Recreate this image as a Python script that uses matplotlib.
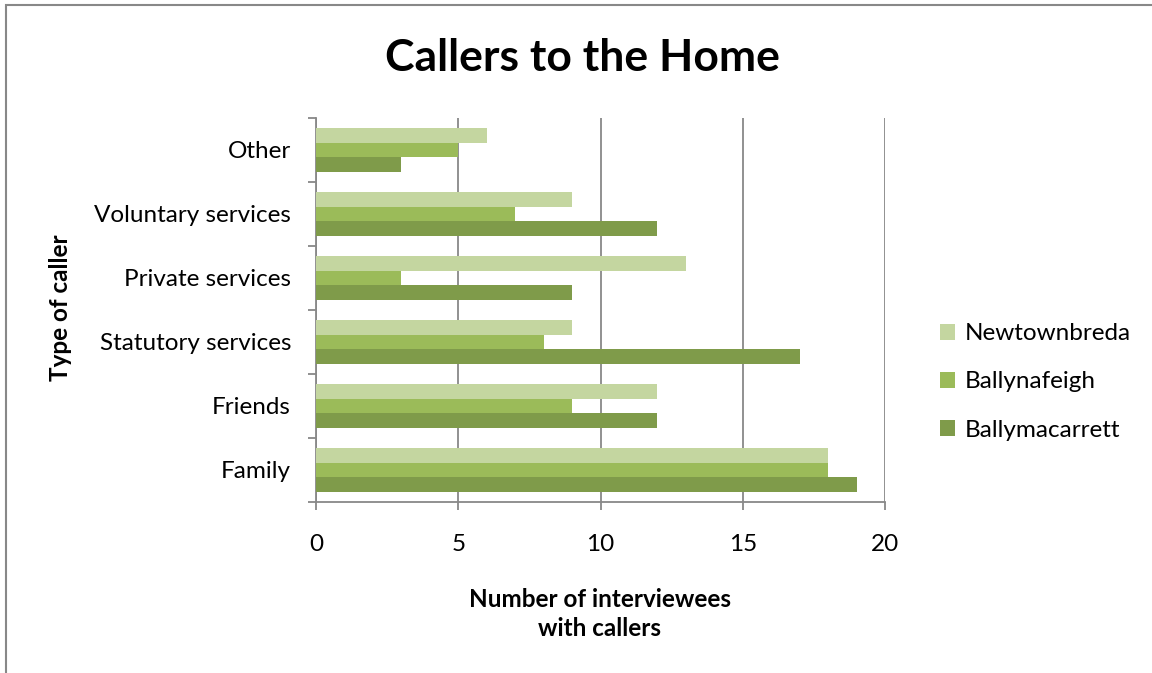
import numpy as np
import matplotlib
matplotlib.use('Agg')
import matplotlib.pyplot as plt
from matplotlib.patches import Rectangle

plt.rcParams['font.family'] = ['Lato', 'DejaVu Sans']

# Datos
categorias = ['Family', 'Friends', 'Statutory services', 'Private services',
              'Voluntary services', 'Other']
newtownbreda = [18, 12, 9, 13, 9, 6]
ballynafeigh = [18, 9, 8, 3, 7, 5]
ballymacarrett = [19, 12, 17, 9, 12, 3]

colores = {'Newtownbreda': '#C4D6A0', 'Ballynafeigh': '#9BBB59',
           'Ballymacarrett': '#7F9B4A'}

W, H = 1152, 673
fig = plt.figure(figsize=(W / 100, H / 100), dpi=100)
ax = fig.add_axes([316 / W, 1 - 502 / H, (885 - 316) / W, (502 - 118) / H])

y = np.arange(len(categorias))
h = 0.224
ax.barh(y + h, newtownbreda, h, color=colores['Newtownbreda'], label='Newtownbreda', zorder=3)
ax.barh(y, ballynafeigh, h, color=colores['Ballynafeigh'], label='Ballynafeigh', zorder=3)
ax.barh(y - h, ballymacarrett, h, color=colores['Ballymacarrett'], label='Ballymacarrett', zorder=3)

ax.set_xlim(0, 20)
ax.set_ylim(-0.5, len(categorias) - 0.5)
ax.set_xticks([0, 5, 10, 15, 20])
ax.set_yticks(y)
ax.set_yticklabels(categorias)
ax.set_yticks(np.arange(-0.5, len(categorias), 1), minor=True)
ax.tick_params(axis='y', which='major', length=0, pad=18, labelsize=17.5)
ax.tick_params(axis='y', which='minor', length=6, width=1.3, color='#888888')
ax.tick_params(axis='x', length=6, width=1.3, color='#888888', pad=17, labelsize=17.5)
ax.xaxis.grid(True, color='#888888', linewidth=1.3, zorder=0)
for s in ['top', 'right']:
    ax.spines[s].set_visible(False)
for s in ['left', 'bottom']:
    ax.spines[s].set_color('#888888')
    ax.spines[s].set_linewidth(1.3)

fig.text(600 / W, 1 - 614 / H, 'Number of interviewees\nwith callers', fontsize=17.5,
         fontweight='bold', ha='center', va='center', linespacing=1.3)
fig.text(60 / W, 1 - 308 / H, 'Type of caller', fontsize=17.5, fontweight='bold',
         rotation=90, ha='center', va='center')
fig.text(582 / W, 1 - 58 / H, 'Callers to the Home', fontsize=32, fontweight='bold',
         ha='center', va='center')

leg = ax.legend(loc='center left', bbox_to_anchor=(928 / W, 1 - 382 / H),
                bbox_transform=fig.transFigure, frameon=False, borderpad=0,
                fontsize=17.5, handlelength=0.62, handleheight=0.62, labelspacing=1.12,
                handletextpad=0.4)

# borde del grafico
fig.patches.append(Rectangle((5.5 / W, -0.1), 1.2, 1 - 5.5 / H + 0.1,
                             transform=fig.transFigure, fill=False,
                             edgecolor='#888888', linewidth=1.5))

fig.savefig('out.png', dpi=100)
